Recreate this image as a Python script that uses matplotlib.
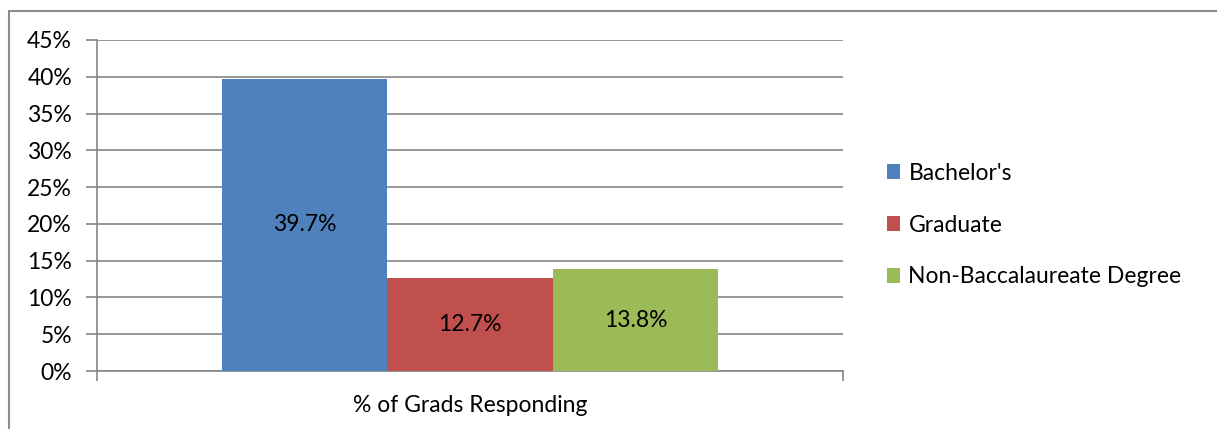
import matplotlib
matplotlib.use("Agg")
import matplotlib.pyplot as plt
from matplotlib.patches import Rectangle
from matplotlib.ticker import FuncFormatter

categories = ["Bachelor's", "Graduate", "Non-Baccalaureate Degree"]
values = [39.7, 12.7, 13.8]
colors = ["#4F81BD", "#C0504D", "#9BBB59"]
group_label = "% of Grads Responding"
yticks = [0, 5, 10, 15, 20, 25, 30, 35, 40, 45]

plt.rcParams["font.family"] = ["Lato", "DejaVu Sans"]
grid_c = "#868686"
fs = 16.5

fig = plt.figure(figsize=(12.17, 4.29), dpi=100)
W, H = 1217, 429
ax = fig.add_axes([97 / W, 1 - 371 / H, (843 - 97) / W, (371 - 40) / H])

bw = 497 / 746 / 3
offs = [-1, 0, 1]
handles = []
for c, v, col, o in zip(categories, values, colors, offs):
    b = ax.bar(0.5 + o * bw, v, width=bw, color=col, label=c, zorder=3)
    handles.append(b)
    ax.text(0.5 + o * bw, v / 2, f"{v:.1f}%", ha="center", va="center",
            fontsize=fs, color="black", zorder=4)

ax.set_xlim(0, 1)
ax.set_ylim(0, 45)
ax.set_yticks(yticks)
ax.yaxis.set_major_formatter(FuncFormatter(lambda y, p: f"{int(y)}%"))
ax.grid(axis="y", color=grid_c, linewidth=1.2, zorder=0)
ax.tick_params(axis="y", length=8, width=1.2, color=grid_c, labelsize=fs, pad=10)
ax.set_xticks([0, 1])
ax.set_xticklabels(["", ""])
ax.tick_params(axis="x", length=7, width=1.2, color=grid_c)
for s in ["top", "right"]:
    ax.spines[s].set_visible(False)
for s in ["left", "bottom"]:
    ax.spines[s].set_color(grid_c)
    ax.spines[s].set_linewidth(1.2)
ax.text(0.5, 1 - (405 - 40) / 331, group_label, transform=ax.transAxes,
        ha="center", va="center", fontsize=fs)

fig.legend(handles=handles, labels=categories, loc="center left",
           bbox_to_anchor=(866 / W, 1 - 225 / H), frameon=False, fontsize=fs,
           handlelength=0.6, handleheight=0.6, handletextpad=0.35, labelspacing=1.35)

fig.patches.append(Rectangle((9 / W, -0.05), 1.1, 1 - 11 / H + 0.05,
                             transform=fig.transFigure, fill=False,
                             edgecolor="#8c8c8c", linewidth=1.5))

fig.savefig("out.png", dpi=100)
